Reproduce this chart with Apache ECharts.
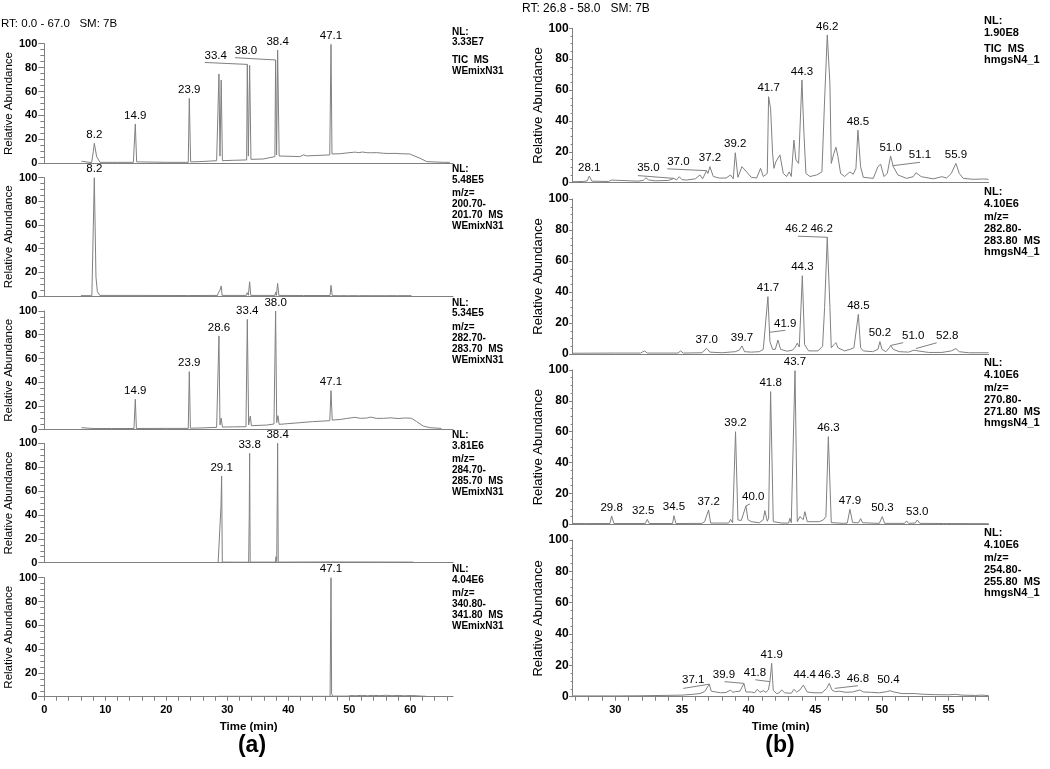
<!DOCTYPE html>
<html><head><meta charset="utf-8">
<script src="https://cdn.jsdelivr.net/npm/echarts@6/dist/echarts.min.js"></script>
<style>html,body{margin:0;padding:0;background:#fff}#c{width:1050px;height:769px}</style>
</head><body><div id="c"></div>
<script>
// ---------------- DATA (time in min, relative abundance in %) ----------------
const L_TICK_LABELS = [0, 10, 20, 30, 40, 50, 60];
const L_TICK_MARKS = [0,2,4,6,8,10,12,14,16,18,20,22,24,26,28,30,32,34,36,38,40,42,44,46,48,50,52,54,56,58,60,62,64,66];
const R_TICK_LABELS = [30, 35, 40, 45, 50, 55];
const R_TICK_MARKS = [27,28,29,30,31,32,33,34,35,36,37,38,39,40,41,42,43,44,45,46,47,48,49,50,51,52,53,54,55,56,57,58];

const L1_TIC = [[6.1,1.7],[7.76,0.6],[8.03,9.7],[8.2,16.7],[8.58,5.6],[9.13,0.8],[12,0.8],[14.6,0.8],[14.92,32.9],[15.14,1.2],[20,0.8],[23.6,0.8],[23.77,54.3],[23.99,1.2],[25.5,1.4],[28.25,2.2],[28.63,74.7],[28.8,6],[29.0,69.6],[29.2,2.2],[31,2.5],[33.17,2.8],[33.28,82.7],[33.45,6],[33.66,81.9],[33.88,3.3],[35.9,3.6],[37.8,5.6],[37.92,86.4],[38.08,7],[38.25,94.7],[38.5,6.1],[41.9,5.6],[42.5,7],[43,6.2],[46.8,7],[47.0,99.4],[47.16,7.8],[48.5,8],[49.5,8.6],[50.65,9.2],[51,9.3],[51.5,8.9],[52.2,9.4],[52.8,8.9],[53.5,8.8],[54.5,8.9],[55.6,8.4],[56.5,8.2],[57.5,8.3],[58.5,8],[59.9,7.8],[61.6,4.2],[62.7,1.4],[65.4,0.8],[66.5,0.8]];
const L2_MZ201 = [[6.0,0.3],[7.8,0.3],[8.03,58.6],[8.2,100],[8.47,16],[8.7,3.7],[9.1,0.5],[14.7,0.5],[14.86,1.1],[15.0,0.4],[23.6,0.4],[23.77,1.7],[23.9,0.4],[28.4,0.5],[28.5,2.3],[28.7,0.8],[28.8,5],[29.0,8.5],[29.15,0.5],[33.1,0.5],[33.28,2.8],[33.45,0.6],[33.66,12],[33.85,0.5],[37.8,0.5],[37.92,3.1],[38.05,0.5],[38.25,10.7],[38.45,0.5],[42.5,0.4],[46.85,0.4],[47.0,9],[47.2,0.3],[48,0.3],[48.2,0.9],[48.4,0.3],[49.5,0.3],[49.7,0.8],[49.9,0.3],[51.3,0.3],[51.5,0.9],[51.7,0.3],[53.5,0.3],[53.7,1.0],[53.9,0.3],[55.5,0.3],[55.7,0.8],[55.9,0.3],[57.5,0.3],[57.7,0.7],[57.9,0.3],[60.2,0.3]];
const L3_MZ283 = [[6.1,1.7],[8,1],[11,1],[14.7,1],[14.92,25.6],[15.1,1],[20,1.1],[23.6,1.1],[23.77,48.9],[23.95,1.3],[26,1.5],[28.25,2],[28.63,79],[28.8,4],[29.0,9.8],[29.2,2.2],[31,2.4],[33.06,2.5],[33.28,93],[33.5,4],[33.77,11.5],[33.95,3.4],[36.45,3.9],[37.65,4.8],[37.92,100],[38.1,6],[38.3,11.8],[38.5,4.5],[41.9,5.9],[44,6.8],[46.8,7.6],[47.0,32.9],[47.2,8.1],[48.5,8.6],[49.5,9.4],[50.9,10.4],[51.8,9.6],[52.8,9.8],[53.5,10.6],[54.5,9.5],[55.6,9.6],[56.8,10],[58,9.4],[59.2,9.9],[60.2,9.6],[61,7],[62.1,3.1],[63.2,1.7],[65.1,1.1]];
const L4_MZ285 = [[28.5,0.3],[28.8,0.8],[28.96,47],[29.07,72.6],[29.18,0.5],[33.5,0.4],[33.6,40],[33.66,91.6],[33.75,0.5],[37.9,0.5],[37.98,5],[38.1,1],[38.2,60],[38.25,100],[38.35,0.5],[46.9,0.6],[47.0,1.5],[47.1,0.6],[60.5,0.5]];
const L5_MZ341 = [[28.5,0.3],[46.85,0.3],[46.95,65.8],[47.0,100],[47.1,2.8],[47.25,0.5],[49.8,0.5],[50.2,1],[51,0.8],[52,1.1],[53,0.8],[54,1.1],[55,0.9],[56,1.2],[57,0.8],[58,1.1],[59,0.8],[60.2,1],[60.4,0.3],[62.6,0.3]];

const R1_TIC = [[26.8,0.6],[27.6,0.8],[27.9,1.2],[28.05,4.3],[28.25,1],[29.5,0.8],[29.7,1.7],[29.85,0.8],[31.7,1],[32.1,1.5],[32.3,3.2],[32.5,1.8],[33.0,1.2],[34.0,1.5],[34.4,2.8],[34.6,1.8],[34.8,3.9],[35.0,2],[35.35,1.7],[36.0,2.5],[36.35,5],[36.55,2.5],[36.85,7.8],[36.95,6],[37.1,10.4],[37.35,4],[37.8,3],[38.3,3],[38.65,5],[38.85,2.5],[39.0,19.4],[39.2,3.5],[39.5,10.4],[39.65,11],[39.85,7],[40.2,3.5],[40.6,3],[40.9,9.3],[41.1,4],[41.4,6],[41.5,55.7],[41.65,48],[41.8,19],[41.9,9.3],[42.05,13.6],[42.2,12.5],[42.35,18],[42.6,6],[42.85,4],[43.05,7],[43.2,4],[43.4,27.6],[43.55,14.7],[43.75,12.5],[44.0,66.5],[44.15,32],[44.3,6],[44.6,4],[45.1,5],[45.5,7],[45.7,53.6],[45.9,95.7],[46.1,64],[46.2,12.5],[46.4,19],[46.55,23],[46.7,17],[46.9,6],[47.2,4],[47.6,7],[47.85,5.5],[48.05,9.3],[48.2,34],[48.4,10.4],[48.6,3.5],[49.35,2.8],[49.7,10.4],[49.9,12],[50.15,4],[50.4,6],[50.65,17.3],[50.85,10.4],[51.2,5],[51.85,2.8],[52.35,3.9],[52.55,6.5],[52.7,6],[52.95,3.9],[53.85,2.5],[54.5,3.9],[54.85,3],[55.2,6],[55.55,12.5],[55.8,6],[56.1,2.8],[56.85,2.2],[57.6,2.4],[58,2.2]];
const R2_MZ283 = [[26.8,0.5],[30,0.6],[31.9,0.6],[32.2,2],[32.4,0.6],[34.7,0.6],[34.9,2],[35.1,0.6],[36.5,0.8],[36.85,3.7],[37.1,1.2],[38.0,0.8],[39.0,1.5],[39.3,2.5],[39.5,5.2],[39.7,1.5],[40.2,1.2],[40.8,1.5],[41.1,3],[41.25,2],[41.45,37],[41.6,8],[41.8,3],[42.0,3],[42.2,9],[42.4,3],[42.9,1.8],[43.3,2.5],[43.5,4.5],[43.65,7],[43.8,4.5],[44.03,50.5],[44.2,6],[44.5,2],[45.2,2],[45.55,5],[45.7,30],[45.9,75.3],[46.1,30],[46.2,4],[46.4,6],[46.55,7.3],[46.7,4],[47.2,2],[47.6,3],[47.9,4],[48.05,5],[48.23,25.6],[48.4,4],[48.6,2],[49.3,1.5],[49.7,3],[49.85,8],[50.0,3],[50.3,1.5],[50.55,4],[50.65,5.5],[50.85,3],[51.3,1.5],[52.0,1.2],[52.4,2.5],[52.55,3.5],[52.7,2],[53.5,1],[54.5,1],[55.2,2],[55.55,3.5],[55.8,1.5],[56.5,0.8],[58,0.8]];
const R3_MZ271 = [[26.8,0.5],[27.5,0.5],[27.6,1],[27.75,0.5],[29.6,0.5],[29.73,5.4],[29.9,0.5],[32.25,0.5],[32.4,3.2],[32.55,0.5],[34.3,0.5],[34.4,5.6],[34.55,0.5],[36.5,0.6],[36.7,1.7],[36.85,0.8],[37.0,9.3],[37.15,0.8],[38.5,0.8],[38.65,3.2],[38.8,1],[39.02,60],[39.2,2.8],[39.45,2.5],[39.6,3],[39.8,11.9],[39.95,3],[40.2,1.7],[40.8,1],[41.1,3],[41.22,8.9],[41.4,2],[41.5,4],[41.65,86],[41.85,1.7],[42.5,0.8],[43.0,0.8],[43.1,3.9],[43.2,1],[43.35,2],[43.48,99.6],[43.65,1.7],[43.85,5],[43.98,6],[44.1,3],[44.22,8.2],[44.4,1.7],[45.3,1.7],[45.6,2.8],[45.8,5],[45.98,56.8],[46.2,1.1],[47.1,0.6],[47.4,0.8],[47.6,9.7],[47.8,1.1],[48.25,1],[48.4,3.7],[48.55,1],[49.8,0.6],[50.03,5],[50.2,0.6],[51.7,0.6],[51.85,2.2],[52.0,0.6],[52.5,0.8],[52.65,2.8],[52.85,0.6],[54.6,0.5],[54.7,1],[54.85,0.5],[58,0.4]];
const R4_MZ255 = [[26.8,0.5],[30,0.5],[32,0.6],[33.5,0.8],[35,1],[35.8,1.5],[36.35,2],[36.5,1.6],[36.7,3.2],[36.85,2],[37.05,8],[37.2,3.5],[37.35,2.5],[37.9,2.5],[38.3,2.7],[38.65,4.2],[38.8,2.8],[39.0,3.2],[39.15,2.8],[39.35,3.5],[39.65,8.5],[39.8,3],[40.2,3],[40.45,2.5],[40.65,4.7],[40.85,2.8],[41.1,3.8],[41.3,2.8],[41.48,4.3],[41.6,9.6],[41.73,21.3],[41.85,4],[42.1,2],[42.3,2.5],[42.48,4.3],[42.7,2.5],[43.2,2.2],[43.4,4.7],[43.6,3],[43.85,4.3],[44.0,3.8],[44.1,7.4],[44.2,8.5],[44.4,3],[44.9,2.5],[45.5,2.5],[45.85,5.3],[46.05,8.5],[46.25,4.3],[46.5,3.2],[46.8,3.5],[47.3,2.8],[47.8,3],[48.35,4.3],[48.6,3],[49.2,2.8],[49.8,2.5],[50.35,3.2],[50.6,3.8],[50.9,3],[51.5,2],[52.5,2],[53,1.6],[54,1.3],[55,1.2],[55.5,1.5],[56,1],[57,0.8],[57.5,1],[58,0.7]];

// peak labels: [time, abundance, text]
const L1_LABELS = [[8.2,16.7,'8.2'],[14.92,32.9,'14.9'],[23.77,54.3,'23.9'],[33.28,82.7,'33.4'],[37.92,86.4,'38.0'],[38.25,94.7,'38.4'],[47.0,99.4,'47.1']];
const L2_LABELS = [[8.2,100,'8.2']];
const L3_LABELS = [[14.92,25.6,'14.9'],[23.77,48.9,'23.9'],[28.63,79,'28.6'],[33.28,93,'33.4'],[37.92,100,'38.0'],[47.0,32.9,'47.1']];
const L4_LABELS = [[29.07,72.6,'29.1'],[33.66,91.6,'33.8'],[38.25,100,'38.4']];
const L5_LABELS = [[47.0,100,'47.1']];
const R1_LABELS = [[28.05,4.3,'28.1'],[34.4,2.8,'35.0'],[36.85,7.8,'37.0'],[37.1,10.4,'37.2'],[39.0,19.4,'39.2'],[41.5,55.7,'41.7'],[44.0,66.5,'44.3'],[45.9,95.7,'46.2'],[48.2,34,'48.5'],[50.65,17.3,'51.0'],[50.8,11,'51.1'],[55.55,12.5,'55.9']];
const R2_LABELS = [[36.85,3.7,'37.0'],[39.5,5.2,'39.7'],[41.45,37,'41.7'],[41.57,14,'41.9'],[44.03,50.5,'44.3'],[45.9,75.3,'46.2'],[45.9,75.3,'46.2'],[48.23,25.6,'48.5'],[49.85,8,'50.2'],[50.65,5.5,'51.0'],[52.55,3.5,'52.8']];
const R3_LABELS = [[29.73,5.4,'29.8'],[32.4,3.2,'32.5'],[34.4,5.6,'34.5'],[37.0,9.3,'37.2'],[39.02,60,'39.2'],[39.8,11.9,'40.0'],[41.65,86,'41.8'],[43.48,99.6,'43.7'],[45.98,56.8,'46.3'],[47.6,9.7,'47.9'],[50.03,5,'50.3'],[52.65,2.8,'53.0']];
const R4_LABELS = [[37.05,8,'37.1'],[39.65,8.5,'39.9'],[41.6,9.6,'41.8'],[41.73,21.3,'41.9'],[44.2,8.5,'44.4'],[46.05,8.5,'46.3'],[46.45,5.3,'46.8'],[50.6,3.8,'50.4']];

// instrument notes
const NOTES_L1 = ['NL:', '3.33E7', 'TIC  MS', 'WEmixN31'];
const NOTES_L2 = ['NL:', '5.48E5', 'm/z=', '200.70-', '201.70  MS', 'WEmixN31'];
const NOTES_L3 = ['NL:', '5.34E5', 'm/z=', '282.70-', '283.70  MS', 'WEmixN31'];
const NOTES_L4 = ['NL:', '3.81E6', 'm/z=', '284.70-', '285.70  MS', 'WEmixN31'];
const NOTES_L5 = ['NL:', '4.04E6', 'm/z=', '340.80-', '341.80  MS', 'WEmixN31'];
const NOTES_R1 = ['NL:', '1.90E8', 'TIC  MS', 'hmgsN4_1'];
const NOTES_R2 = ['NL:', '4.10E6', 'm/z=', '282.80-', '283.80  MS', 'hmgsN4_1'];
const NOTES_R3 = ['NL:', '4.10E6', 'm/z=', '270.80-', '271.80  MS', 'hmgsN4_1'];
const NOTES_R4 = ['NL:', '4.10E6', 'm/z=', '254.80-', '255.80  MS', 'hmgsN4_1'];

const HEADER_L = 'RT: 0.0 - 67.0   SM: 7B';
const HEADER_R = 'RT: 26.8 - 58.0   SM: 7B';

// ---------------- LAYOUT / STYLE ----------------
// leader placement for offset labels: key "panel:labelIndex" -> text anchor (center-bottom) and line start, in data units
const LEADERS = {
  'L1:3': {text:[28.1,84.1], from:[26.3,84.3]},
  'L1:4': {text:[33.06,88.6], from:[31.26,88.3]},
  'R1:1': {text:[32.48,5.2], from:[31.7,4.6]},
  'R1:2': {text:[34.73,9.3], from:[33.9,9.0]},
  'R1:10': {text:[52.85,13.6], from:[52.85,13.2]},
  'R2:3': {text:[42.75,15.5], from:[42.75,15.3]},
  'R2:5': {text:[43.58,76.3], from:[43.7,76.0]},
  'R2:6': {text:[45.48,76.5], from:null},
  'R2:9': {text:[52.35,7.5], from:[51.6,7.3]},
  'R2:10': {text:[54.9,7.3], from:[54.1,7.2]},
  'R3:1': {text:[32.1,4.8], from:null},
  'R3:5': {text:[40.35,13.6], from:[40.1,13.2]},
  'R4:0': {text:[35.85,6.4], from:[35.1,5.3]},
  'R4:1': {text:[38.15,10], from:[38.2,9.6]},
  'R4:2': {text:[40.48,11], from:[40.5,10.8]},
  'R4:6': {text:[48.2,7.4], from:[48.2,7.0]},
  'R4:7': {text:[50.48,6.8], from:null}
};

const FONT = '"Liberation Sans", Arial, Helvetica, sans-serif';
const TRACE = '#808080';
const AXIS = '#808080';
const SIDES = {
  L: {left:44.3, width:408.7, min:0, max:67, marks:L_TICK_MARKS, labels:L_TICK_LABELS, yFont:11, xFont:11, tickLen:6, minorLen:4, yMargin:7, nameFont:11.5, nameGap:29, noteX:452, noteFont:10, peakFont:11.5},
  R: {left:572.6, width:416, min:26.8, max:58, marks:R_TICK_MARKS, labels:R_TICK_LABELS, yFont:12, xFont:11, tickLen:3.5, minorLen:2, yMargin:4, nameFont:13, nameGap:27, noteX:984, noteFont:11, peakFont:11.5}
};
const PANELS = [
  {id:'L1', side:'L', top:43.7, bottom:163.3, data:L1_TIC, labels:L1_LABELS, notes:NOTES_L1, noteY:[32,42,60,71.5]},
  {id:'L2', side:'L', top:177.7, bottom:296, data:L2_MZ201, labels:L2_LABELS, notes:NOTES_L2},
  {id:'L3', side:'L', top:311, bottom:429.7, data:L3_MZ283, labels:L3_LABELS, notes:NOTES_L3},
  {id:'L4', side:'L', top:443.3, bottom:562.7, data:L4_MZ285, labels:L4_LABELS, notes:NOTES_L4},
  {id:'L5', side:'L', top:577.7, bottom:696.7, data:L5_MZ341, labels:L5_LABELS, notes:NOTES_L5, isBottom:true},
  {id:'R1', side:'R', top:28.3, bottom:182.7, data:R1_TIC, labels:R1_LABELS, notes:NOTES_R1, noteY:[21.3,32.8,49.3,60.3]},
  {id:'R2', side:'R', top:199, bottom:354, data:R2_MZ283, labels:R2_LABELS, notes:NOTES_R2},
  {id:'R3', side:'R', top:370, bottom:524.3, data:R3_MZ271, labels:R3_LABELS, notes:NOTES_R3},
  {id:'R4', side:'R', top:540, bottom:696.7, data:R4_MZ255, labels:R4_LABELS, notes:NOTES_R4, isBottom:true}
];
const NOTE_OFFSETS = {L:[-8,2.5,16,27,38,49], R:[-7,4.5,18,30,41.5,53]};

// ---------------- BUILD ----------------
const grids = [], xAxes = [], yAxes = [], series = [], graphics = [];
PANELS.forEach((p, i) => {
  const s = SIDES[p.side];
  grids.push({left:s.left, top:p.top, width:s.width, height:p.bottom - p.top, containLabel:false, outerBoundsMode:'none'});
  xAxes.push({
    gridIndex:i, type:'value', min:s.min, max:s.max,
    axisLine:{show:true, onZero:false, lineStyle:{color:AXIS, width:1}},
    axisTick:{show:!!p.isBottom, customValues:s.marks, length:4, lineStyle:{color:AXIS, width:1}},
    axisLabel:{show:!!p.isBottom, customValues:s.labels, margin:8, color:'#000', fontSize:s.xFont, fontWeight:'bold', fontFamily:FONT},
    splitLine:{show:false},
    name: p.isBottom ? 'Time (min)' : '', nameLocation:'middle', nameGap:24,
    nameTextStyle:{color:'#000', fontSize:11.5, fontWeight:'bold', fontFamily:FONT}
  });
  yAxes.push({
    gridIndex:i, type:'value', min:0, max:100, interval:20,
    axisLine:{show:true, lineStyle:{color:AXIS, width:1}},
    axisTick:{show:true, length:s.tickLen, lineStyle:{color:AXIS, width:1}},
    minorTick:{show:true, splitNumber:4, length:s.minorLen, lineStyle:{color:AXIS, width:1}},
    axisLabel:{margin:s.yMargin, color:'#000', fontSize:s.yFont, fontWeight:'bold', fontFamily:FONT},
    splitLine:{show:false},
    name:'Relative Abundance', nameLocation:'middle', nameGap:s.nameGap,
    nameTextStyle:{color:'#000', fontSize:s.nameFont, fontFamily:FONT}
  });
  const mp = [], ml = [];
  p.labels.forEach((lb, k) => {
    const ld = LEADERS[p.id + ':' + k];
    const at = ld ? ld.text : [lb[0], lb[1]];
    mp.push({coord:at, value:lb[2], label:{distance: ld ? 0 : 2}});
    if (ld && ld.from) ml.push([{coord:ld.from}, {coord:[lb[0], lb[1]]}]);
  });
  series.push({
    type:'line', xAxisIndex:i, yAxisIndex:i, data:p.data,
    showSymbol:false, symbol:'none', silent:true, animation:false,
    lineStyle:{color:TRACE, width:1},
    markPoint:{
      symbol:'circle', symbolSize:1, silent:true, animation:false,
      itemStyle:{color:'rgba(0,0,0,0)'},
      label:{show:true, position:'top', formatter:(d) => d.value, color:'#000', fontSize:s.peakFont, fontFamily:FONT},
      data:mp
    },
    markLine:{
      symbol:['none','none'], silent:true, animation:false,
      label:{show:false}, lineStyle:{color:TRACE, width:1, type:'solid'},
      emphasis:{disabled:true},
      data:ml
    }
  });
  const ys = p.noteY || NOTE_OFFSETS[p.side].map(o => p.top + o);
  p.notes.forEach((t, k) => {
    graphics.push({type:'text', x:s.noteX, y:ys[k], silent:true,
      style:{text:t, fill:'#000', font:'bold ' + s.noteFont + 'px ' + FONT, verticalAlign:'middle', align:'left'}});
  });
});
graphics.push({type:'text', x:1, y:24, style:{text:HEADER_L, fill:'#000', font:'11.5px ' + FONT, verticalAlign:'middle'}});
graphics.push({type:'text', x:522, y:9, style:{text:HEADER_R, fill:'#000', font:'12px ' + FONT, verticalAlign:'middle'}});
graphics.push({type:'text', x:252, y:746, style:{text:'(a)', fill:'#000', font:'bold 23px ' + FONT, verticalAlign:'middle', align:'center'}});
graphics.push({type:'text', x:780, y:746, style:{text:'(b)', fill:'#000', font:'bold 23px ' + FONT, verticalAlign:'middle', align:'center'}});

const chart = echarts.init(document.getElementById('c'), null, {renderer:'canvas'});
chart.setOption({
  animation:false, backgroundColor:'#fff',
  grid:grids, xAxis:xAxes, yAxis:yAxes, series:series, graphic:graphics
});
</script></body></html>
